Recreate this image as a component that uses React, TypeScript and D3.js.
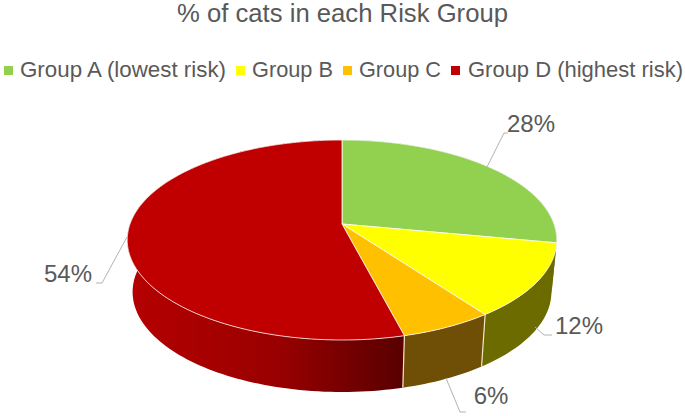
import * as d3 from 'd3'

const groups = ['Group A (lowest risk)', 'Group B', 'Group C', 'Group D (highest risk)']
const shares = [28, 12, 6, 54]
const topColors = ['#92D050', '#FFFF00', '#FFC000', '#C00000']
const wallColors = ['#5f7f30', '#6b6b00', '#6e4f05', 'url(#redWall)']
const legendX = [4, 236, 343, 451]
const legendTextX = [20, 252, 359, 468]
const legendTextWidth = [206, 81, 82, 215]
const labelPos = [
  { x: 531, y: 124 },
  { x: 579, y: 326 },
  { x: 491, y: 396 },
  { x: 68, y: 274 },
]
const leaders: [number, number][][] = [
  [[487, 167], [504, 133], [508, 133]],
  [[535, 327], [544, 335], [552, 335]],
  [[446, 378], [460, 412], [466, 412]],
  [[127, 237], [102, 283], [96, 283]],
]

const width = 685
const height = 416
const textColor = '#595959'

// tilted disc: maps a pie angle to the screen with a little perspective
const cx = 342
const rimX = 212
const vertexY = 224
const rimY = 61.6
const persp = -0.16
const depth = 52
const bottomScale = 0.975

function project(angle: number, lower = false) {
  const u = Math.sin(angle)
  const v = -Math.cos(angle)
  const w = persp * v + 1
  const x = (rimX * u) / w
  const y = (rimY * v + vertexY) / w
  return lower ? [cx + x * bottomScale, y + depth] : [cx + x, y]
}

const line = d3.line()

function arcPoints(a0: number, a1: number, lower = false) {
  const n = Math.max(2, Math.ceil((a1 - a0) * 40))
  return d3.range(n + 1).map(i => project(a0 + ((a1 - a0) * i) / n, lower)) as [number, number][]
}

const slices = d3.pie<number>().value(d => d).sort(null)(shares)

export default function App() {
  // walls go in back to front, the big red one first
  const wallOrder = [0, 3, 1, 2]
  return (
    <svg
      width={width}
      height={height}
      style={{ position: 'absolute', left: 0, top: 0, background: '#fff' }}
      fontFamily="'Liberation Sans', Arial, sans-serif"
    >
      <defs>
        <linearGradient id="redWall" gradientUnits="userSpaceOnUse" x1="130" x2="400" y1="0" y2="0">
          <stop offset="0" stopColor="#b50000" />
          <stop offset="0.55" stopColor="#990000" />
          <stop offset="1" stopColor="#5a0000" />
        </linearGradient>
      </defs>

      <text x={177} y={22} fontSize={25} fill={textColor} textLength={331} lengthAdjust="spacingAndGlyphs">
        % of cats in each Risk Group
      </text>

      {groups.map((g, i) => (
        <g key={g}>
          <rect x={legendX[i]} y={66} width={9} height={9} fill={topColors[i]} />
          <text
            x={legendTextX[i]}
            y={77}
            fontSize={22}
            fill={textColor}
            textLength={legendTextWidth[i]}
            lengthAdjust="spacingAndGlyphs"
          >
            {g}
          </text>
        </g>
      ))}

      {wallOrder.map(i => {
        const s = slices[i]
        const pts = [...arcPoints(s.startAngle, s.endAngle), ...arcPoints(s.startAngle, s.endAngle, true).reverse()]
        return <path key={i} d={line(pts) + 'Z'} fill={wallColors[i]} />
      })}

      {/* light seams between the walls */}
      {[slices[1].endAngle, slices[2].endAngle].map(a => (
        <path
          key={a}
          d={line([project(a) as [number, number], project(a, true) as [number, number]]) ?? ''}
          stroke="#f3e6c8"
          strokeWidth={1.2}
          fill="none"
        />
      ))}

      {slices.map((s, i) => (
        <path
          key={i}
          d={line([[cx, vertexY], ...arcPoints(s.startAngle, s.endAngle)]) + 'Z'}
          fill={topColors[i]}
          stroke="#fff"
          strokeOpacity={0.75}
          strokeWidth={1}
          strokeLinejoin="round"
        />
      ))}

      {leaders.map((pts, i) => (
        <path key={i} d={line(pts) ?? ''} fill="none" stroke="#b3b3b3" strokeWidth={1} />
      ))}

      {shares.map((v, i) => (
        <text key={i} x={labelPos[i].x} y={labelPos[i].y} dy="0.35em" textAnchor="middle" fontSize={24} fill={textColor}>
          {d3.format('d')(v)}%
        </text>
      ))}
    </svg>
  )
}
